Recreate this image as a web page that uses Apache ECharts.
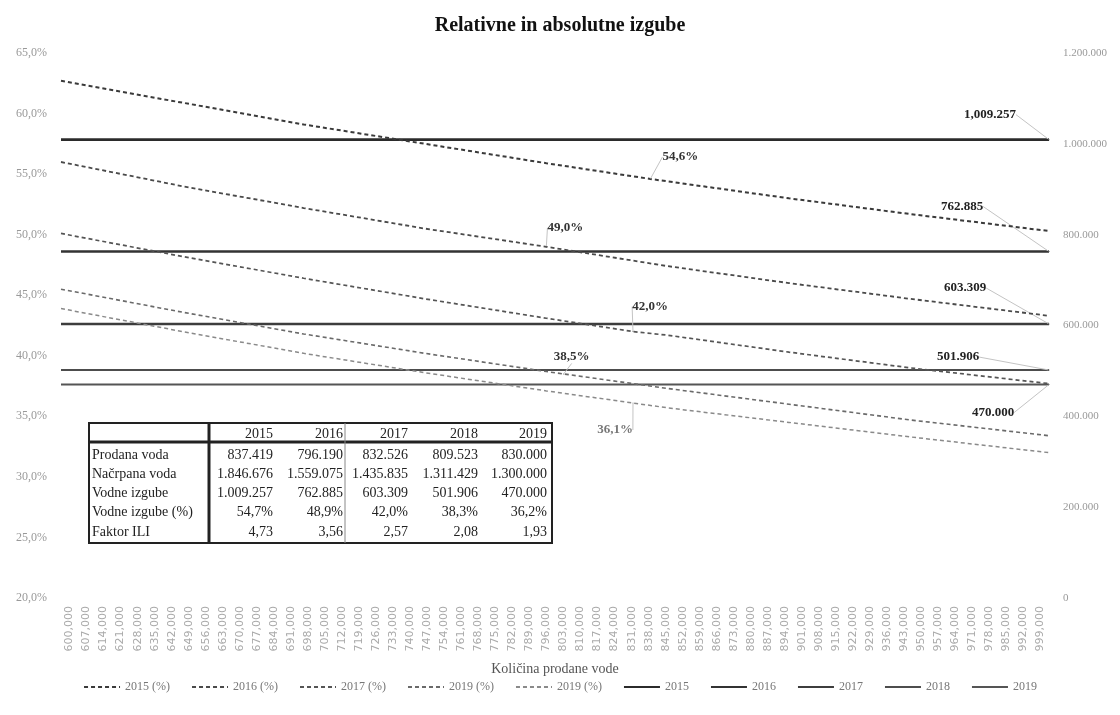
<!DOCTYPE html>
<html><head><meta charset="utf-8">
<script src="https://cdn.jsdelivr.net/npm/echarts@6/dist/echarts.min.js"></script>
<style>html,body{margin:0;padding:0;background:#fff}#c{width:1120px;height:715px}</style>
</head><body><div id="c"></div>
<script>
// ---------- DATA ----------
const years = ['2015','2016','2017','2018','2019'];
// x categories: sold water quantity
const soldCategories = [];
const soldStart = 600000, soldStep = 7000, soldCount = 58;
for (let i = 0; i < soldCount; i++) soldCategories.push(soldStart + soldStep * i);

// relative losses (%) read at selected categories [soldQuantity, percent]
const rel2015 = [[600000,62.7],[649000,60.9],[698000,59.1],[747000,57.5],[796000,55.9],[838000,54.6],[845000,54.4],[894000,53.0],[943000,51.7],[999000,50.3]];
const rel2016 = [[600000,56.0],[649000,54.0],[698000,52.2],[747000,50.5],[796000,49.0],[845000,47.4],[894000,46.0],[943000,44.7],[999000,43.3]];
const rel2017 = [[600000,50.1],[649000,48.2],[698000,46.4],[747000,44.7],[796000,43.1],[831000,42.0],[845000,41.7],[894000,40.3],[943000,39.0],[999000,37.7]];
const rel2018 = [[600000,45.5],[649000,43.6],[698000,41.8],[747000,40.2],[796000,38.7],[803000,38.5],[845000,37.3],[894000,36.0],[943000,34.7],[999000,33.4]];
const rel2019 = [[600000,43.9],[649000,42.0],[698000,40.2],[747000,38.6],[796000,37.1],[831000,36.1],[845000,35.7],[894000,34.5],[943000,33.3],[999000,32.0]];
// which point of each dashed series carries a label
const relLabelAt = [838000, 796000, 831000, 803000, 831000];

// absolute losses (m3)
const absLosses = [1009257, 762885, 603309, 501906, 470000];
const absLabels = ['1,009.257','762.885','603.309','501.906','470.000'];

// axis ticks
const leftMin = 20, leftMax = 65, leftStep = 5;
const rightMin = 0, rightMax = 1200000, rightStep = 200000;

// table
const tableHeader = ['2015','2016','2017','2018','2019'];
const tableRowNames = ['Prodana voda','Načrpana voda','Vodne izgube','Vodne izgube (%)','Faktor ILI'];
const tableProdana = ['837.419','796.190','832.526','809.523','830.000'];
const tableNacrpana = ['1.846.676','1.559.075','1.435.835','1.311.429','1.300.000'];
const tableIzgube = ['1.009.257','762.885','603.309','501.906','470.000'];
const tableIzgubePct = ['54,7%','48,9%','42,0%','38,3%','36,2%'];
const tableILI = ['4,73','3,56','2,57','2,08','1,93'];

// ---------- CHART ----------
const SERIF = '"Liberation Serif","DejaVu Serif",serif';
const SANS = '"DejaVu Sans","Liberation Sans",sans-serif';
const fmtThousands = (n, sep) => String(n).replace(/\B(?=(\d{3})+(?!\d))/g, sep);
const catNames = soldCategories.map(v => fmtThousands(v, ','));

const dashColors = ['#3a3a3a','#4a4a4a','#555','#6a6a6a','#8a8a8a'];
const dashWidths = [2, 1.8, 1.7, 1.6, 1.5];
const solidColors = ['#2b2b2b','#333','#3d3d3d','#4d4d4d','#555'];
const solidWidths = [2.6, 2.4, 2.4, 2.0, 2.0];
const relData = [rel2015, rel2016, rel2017, rel2018, rel2019];
const relLayout = [{dx:30,dy:-10},{dx:19,dy:-7},{dx:17,dy:-13},{dx:8,dy:-5},{dx:-18,dy:15}];
const relPos = ['top','top','top','top','bottom'];
const absLayout = [{dx:-59,dy:-13},{dx:-87,dy:-33},{dx:-84,dy:-24},{dx:-91,dy:-1},{dx:-56,dy:16}];
const absPos = ['top','top','top','top','bottom'];
const relNames = ['2015 (%)','2016 (%)','2017 (%)','2018 (%)','2019 (%)'];

const guide = { show: true, lineStyle: { color: '#c4c4c4', width: 1 } };
const series = [];
relData.forEach((arr, k) => {
  series.push({
    name: relNames[k], type: 'line', xAxisIndex: 1, yAxisIndex: 0,
    symbol: 'none', showSymbol: true, silent: true, z: 3,
    lineStyle: { color: dashColors[k], width: dashWidths[k], type: [4, 3] },
    itemStyle: { color: dashColors[k] },
    data: arr.map(p => {
      const item = { value: [fmtThousands(p[0], ','), p[1]] };
      if (p[0] === relLabelAt[k]) {
        item.symbol = 'circle';
        item.symbolSize = 1;
        item.label = { show: true, position: relPos[k],
          formatter: (pp) => pp.value[1].toFixed(1).replace('.', ',') + '%',
          fontFamily: SERIF, fontWeight: 'bold', fontSize: 13, color: k === 4 ? '#777' : '#333' };
        item.labelLine = guide;
      }
      return item;
    }),
    labelLayout: relLayout[k],
    labelLine: guide
  });
});
absLosses.forEach((v, k) => {
  series.push({
    name: years[k], type: 'line', xAxisIndex: 1, yAxisIndex: 1,
    symbol: 'none', showSymbol: true, silent: true, z: 2,
    lineStyle: { color: solidColors[k], width: solidWidths[k] },
    itemStyle: { color: solidColors[k] },
    data: [
      { value: [catNames[0], v] },
      { value: [catNames[catNames.length - 1], v], symbol: 'circle', symbolSize: 1,
        label: { show: true, position: absPos[k], formatter: absLabels[k],
          fontFamily: SERIF, fontWeight: 'bold', fontSize: 13, color: '#222' },
        labelLine: guide }
    ],
    labelLayout: absLayout[k],
    labelLine: guide
  });
});

// ---------- TABLE GRAPHIC ----------
const tableRows = [tableProdana, tableNacrpana, tableIzgube, tableIzgubePct, tableILI];
const tX = 89, tY = 423, tW = 463, tH = 120;
const colRight = [273, 343, 408, 478, 547];
const rowCenter = [455, 474, 493, 512, 532];
const TFONT = '14px ' + SERIF;
const gEls = [];
gEls.push({ type: 'rect', shape: { x: tX, y: tY, width: tW, height: tH }, style: { fill: '#fff', stroke: '#222', lineWidth: 2 }, z: 100 });
gEls.push({ type: 'line', shape: { x1: 209, y1: tY, x2: 209, y2: tY + tH }, style: { stroke: '#222', lineWidth: 3 }, z: 101 });
gEls.push({ type: 'line', shape: { x1: tX, y1: 442, x2: tX + tW, y2: 442 }, style: { stroke: '#222', lineWidth: 3 }, z: 101 });
gEls.push({ type: 'line', shape: { x1: 345, y1: tY, x2: 345, y2: tY + tH }, style: { stroke: '#888', lineWidth: 1 }, z: 101 });
tableHeader.forEach((h, j) => gEls.push({ type: 'text', x: colRight[j], y: 434, style: { text: h, font: TFONT, fill: '#222', align: 'right', verticalAlign: 'middle' }, z: 102 }));
tableRowNames.forEach((nm, i) => {
  gEls.push({ type: 'text', x: 92, y: rowCenter[i], style: { text: nm, font: TFONT, fill: '#222', align: 'left', verticalAlign: 'middle' }, z: 102 });
  tableRows[i].forEach((val, j) => gEls.push({ type: 'text', x: colRight[j], y: rowCenter[i], style: { text: val, font: TFONT, fill: '#222', align: 'right', verticalAlign: 'middle' }, z: 102 }));
});

const chart = echarts.init(document.getElementById('c'), null, { renderer: 'canvas' });
chart.setOption({
  animation: false,
  backgroundColor: '#fff',
  title: { text: 'Relativne in absolutne izgube', left: 'center', top: 11,
    textStyle: { fontFamily: SERIF, fontWeight: 'bold', fontSize: 20, color: '#111' } },
  grid: { left: 61, right: 71, top: 53, bottom: 117 },
  legend: {
    bottom: 17, left: 'center', itemWidth: 36, itemHeight: 10, itemGap: 21,
    itemStyle: { opacity: 0 },
    textStyle: { fontFamily: SERIF, fontSize: 12, color: '#777' },
    formatter: (n) => n === '2018 (%)' ? '2019 (%)' : n,
    data: relNames.concat(years)
  },
  xAxis: [
    { type: 'category', data: catNames, boundaryGap: true,
      axisLine: { show: false }, axisTick: { show: false },
      axisLabel: { interval: 0, rotate: 90, fontFamily: SANS, fontSize: 11, color: '#aaa', margin: 8 },
      name: 'Količina prodane vode', nameLocation: 'middle', nameGap: 64,
      nameTextStyle: { fontFamily: SERIF, fontSize: 14, color: '#555' } },
    { type: 'category', data: catNames, boundaryGap: false, show: false }
  ],
  yAxis: [
    { type: 'value', position: 'left', min: leftMin, max: leftMax, interval: leftStep,
      splitLine: { show: false }, axisLine: { show: false }, axisTick: { show: false },
      axisLabel: { formatter: (v) => v.toFixed(1).replace('.', ',') + '%', fontFamily: SERIF, fontSize: 12, color: '#999', margin: 14 } },
    { type: 'value', position: 'right', min: rightMin, max: rightMax, interval: rightStep,
      splitLine: { show: false }, axisLine: { show: false }, axisTick: { show: false },
      axisLabel: { formatter: (v) => fmtThousands(v, '.'), fontFamily: SERIF, fontSize: 11, color: '#999', margin: 14 } }
  ],
  series: series,
  graphic: gEls
});
</script></body></html>
